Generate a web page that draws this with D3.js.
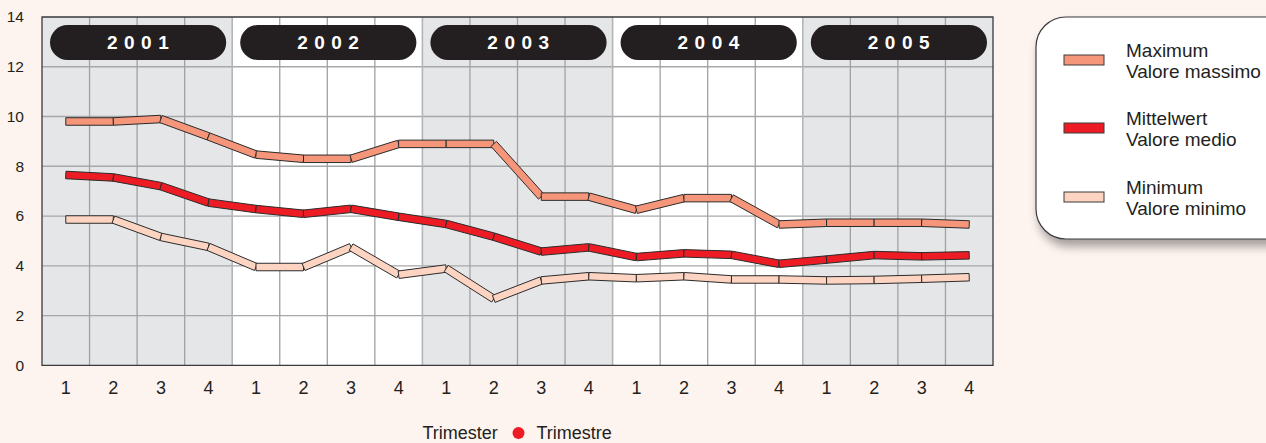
<!DOCTYPE html>
<html>
<head>
<meta charset="utf-8">
<script src="https://cdn.jsdelivr.net/npm/d3@7/dist/d3.min.js"></script>
<style>
  html, body { margin: 0; padding: 0; background: #fdf3ef; }
  svg { display: block; font-family: "Liberation Sans", Arial, sans-serif; }
</style>
</head>
<body>
<svg id="chart" width="1266" height="443"></svg>
<script>
const years = ["2001", "2002", "2003", "2004", "2005"];
const quarters = ["1", "2", "3", "4"];
const yTicks = [0, 2, 4, 6, 8, 10, 12, 14];
const maxValues  = [9.8, 9.8, 9.9, 9.2, 8.47, 8.3, 8.3, 8.9, 8.9, 8.9, 6.78, 6.78, 6.25, 6.72, 6.72, 5.66, 5.73, 5.73, 5.73, 5.66];
const meanValues = [7.65, 7.55, 7.2, 6.54, 6.28, 6.09, 6.29, 5.97, 5.68, 5.17, 4.57, 4.74, 4.35, 4.5, 4.44, 4.08, 4.25, 4.43, 4.38, 4.42];
const minValues  = [5.86, 5.86, 5.16, 4.76, 3.95, 3.95, 4.75, 3.64, 3.89, 2.67, 3.41, 3.58, 3.5, 3.58, 3.45, 3.45, 3.41, 3.43, 3.48, 3.54];
const seriesNames = [["Maximum", "Valore massimo"], ["Mittelwert", "Valore medio"], ["Minimum", "Valore minimo"]];
const seriesColors = ["#f5967a", "#ed1c24", "#fdd3c1"];
const axisTitle = ["Trimester", "Trimestre"];

(function () {
const svg = d3.select("#chart");
const pL = 42, pR = 993, pT = 17, pB = 365.3;

const periods = [];
years.forEach(yr => quarters.forEach(q => periods.push(yr + "-" + q)));

const x = d3.scaleBand().domain(periods).range([pL, pR]).padding(0);
const yearX = d3.scaleBand().domain(years).range([pL, pR]).padding(0);
const y = d3.scaleLinear().domain([0, 14]).range([pB, pT]);

const defs = svg.append("defs");
const f = defs.append("filter").attr("id", "shadow").attr("x", "-20%").attr("y", "-20%").attr("width", "150%").attr("height", "150%");
f.append("feDropShadow").attr("dx", 3).attr("dy", 7).attr("stdDeviation", 5).attr("flood-color", "#000").attr("flood-opacity", 0.35);

// year backgrounds
svg.append("g").selectAll("rect").data(years).join("rect")
  .attr("x", d => yearX(d)).attr("y", pT)
  .attr("width", yearX.bandwidth()).attr("height", pB - pT)
  .attr("fill", (d, i) => i % 2 === 0 ? "#e5e6e8" : "#ffffff");

// grid
const grid = svg.append("g");
grid.selectAll("line.h").data(yTicks.slice(1, -1)).join("line")
  .attr("x1", pL).attr("x2", pR)
  .attr("y1", d => y(d)).attr("y2", d => y(d))
  .attr("stroke", "#a7a8aa").attr("stroke-width", 1.3);
grid.selectAll("line.v").data(periods.slice(1)).join("line")
  .attr("x1", d => x(d)).attr("x2", d => x(d))
  .attr("y1", pT).attr("y2", pB)
  .attr("stroke", (d) => d.endsWith("-1") ? "#b4b5b7" : "#a0a1a3")
  .attr("stroke-width", d => d.endsWith("-1") ? 1.6 : 1.3);

// year pills
const pills = svg.append("g").selectAll("g").data(years).join("g");
pills.append("rect")
  .attr("x", d => yearX(d) + 8).attr("y", 25)
  .attr("width", yearX.bandwidth() - 14).attr("height", 35)
  .attr("rx", 17.5).attr("fill", "#231f20");
pills.append("text")
  .attr("x", d => yearX(d) + 8 + (yearX.bandwidth() - 14) / 2 + 3)
  .attr("y", 49)
  .attr("text-anchor", "middle")
  .attr("fill", "#ffffff").attr("font-weight", "bold").attr("font-size", 19)
  .attr("letter-spacing", 6.5)
  .text(d => d);

// border
svg.append("path")
  .attr("d", `M${pL},${pT}H${pR}V${pB}H${pL}Z`)
  .attr("fill", "none").attr("stroke", "#3a3a3c").attr("stroke-width", 1.3);

// y axis
const yAxis = svg.append("g").attr("transform", `translate(${pL},0)`)
  .call(d3.axisLeft(y).tickValues(yTicks).tickSize(0).tickPadding(18));
yAxis.select(".domain").remove();
yAxis.selectAll("text").attr("font-size", 15.5).attr("fill", "#231f20")
  .attr("font-family", "Liberation Sans, Arial, sans-serif");

// x axis
const xAxis = svg.append("g").attr("transform", `translate(0,${pB})`)
  .call(d3.axisBottom(x).tickSize(0).tickPadding(16).tickFormat(d => d.split("-")[1]));
xAxis.select(".domain").remove();
xAxis.selectAll("text").attr("font-size", 18).attr("fill", "#231f20")
  .attr("font-family", "Liberation Sans, Arial, sans-serif");

// ribbons
const thick = 7.5;
function ribbon(values, color) {
  const pts = values.map((v, i) => [x(periods[i]) + x.bandwidth() / 2, y(v)]);
  const g = svg.append("g");
  for (let i = 0; i < pts.length - 1; i++) {
    const [x1, y1] = pts[i], [x2, y2] = pts[i + 1];
    const dx = x2 - x1, dy = y2 - y1, len = Math.hypot(dx, dy);
    const nx = -dy / len * thick / 2, ny = dx / len * thick / 2;
    const poly = [[x1 + nx, y1 + ny], [x2 + nx, y2 + ny], [x2 - nx, y2 - ny], [x1 - nx, y1 - ny]];
    g.append("polygon")
      .attr("points", poly.map(p => p.join(",")).join(" "))
      .attr("fill", color).attr("stroke", "#2b2b2b").attr("stroke-width", 1)
      .attr("stroke-linejoin", "miter");
  }
}
ribbon(maxValues, seriesColors[0]);
ribbon(meanValues, seriesColors[1]);
ribbon(minValues, seriesColors[2]);

// axis title
const t = svg.append("g");
t.append("text").attr("x", 422.5).attr("y", 438.5).attr("font-size", 18).attr("fill", "#231f20").text(axisTitle[0]);
t.append("circle").attr("cx", 518.5).attr("cy", 433).attr("r", 6).attr("fill", "#ed1c24");
t.append("text").attr("x", 536.5).attr("y", 438.5).attr("font-size", 18).attr("fill", "#231f20").text(axisTitle[1]);

// legend
const lg = svg.append("g");
lg.append("rect").attr("x", 1036).attr("y", 17).attr("width", 280).attr("height", 222).attr("rx", 30)
  .attr("fill", "#ffffff").attr("stroke", "#3a3a3c").attr("stroke-width", 1.2).attr("filter", "url(#shadow)");
const swY = [55, 123, 192];
const txY = [56.5, 125, 193.5];
seriesNames.forEach((names, i) => {
  lg.append("rect").attr("x", 1064).attr("y", swY[i]).attr("width", 40).attr("height", 10)
    .attr("fill", seriesColors[i]).attr("stroke", "#3a3a3c").attr("stroke-width", 1);
  lg.append("text").attr("x", 1126).attr("y", txY[i]).attr("font-size", 19).attr("fill", "#231f20").text(names[0]);
  lg.append("text").attr("x", 1126).attr("y", txY[i] + 21).attr("font-size", 19).attr("fill", "#231f20").text(names[1]);
});
})();
</script>
</body>
</html>
